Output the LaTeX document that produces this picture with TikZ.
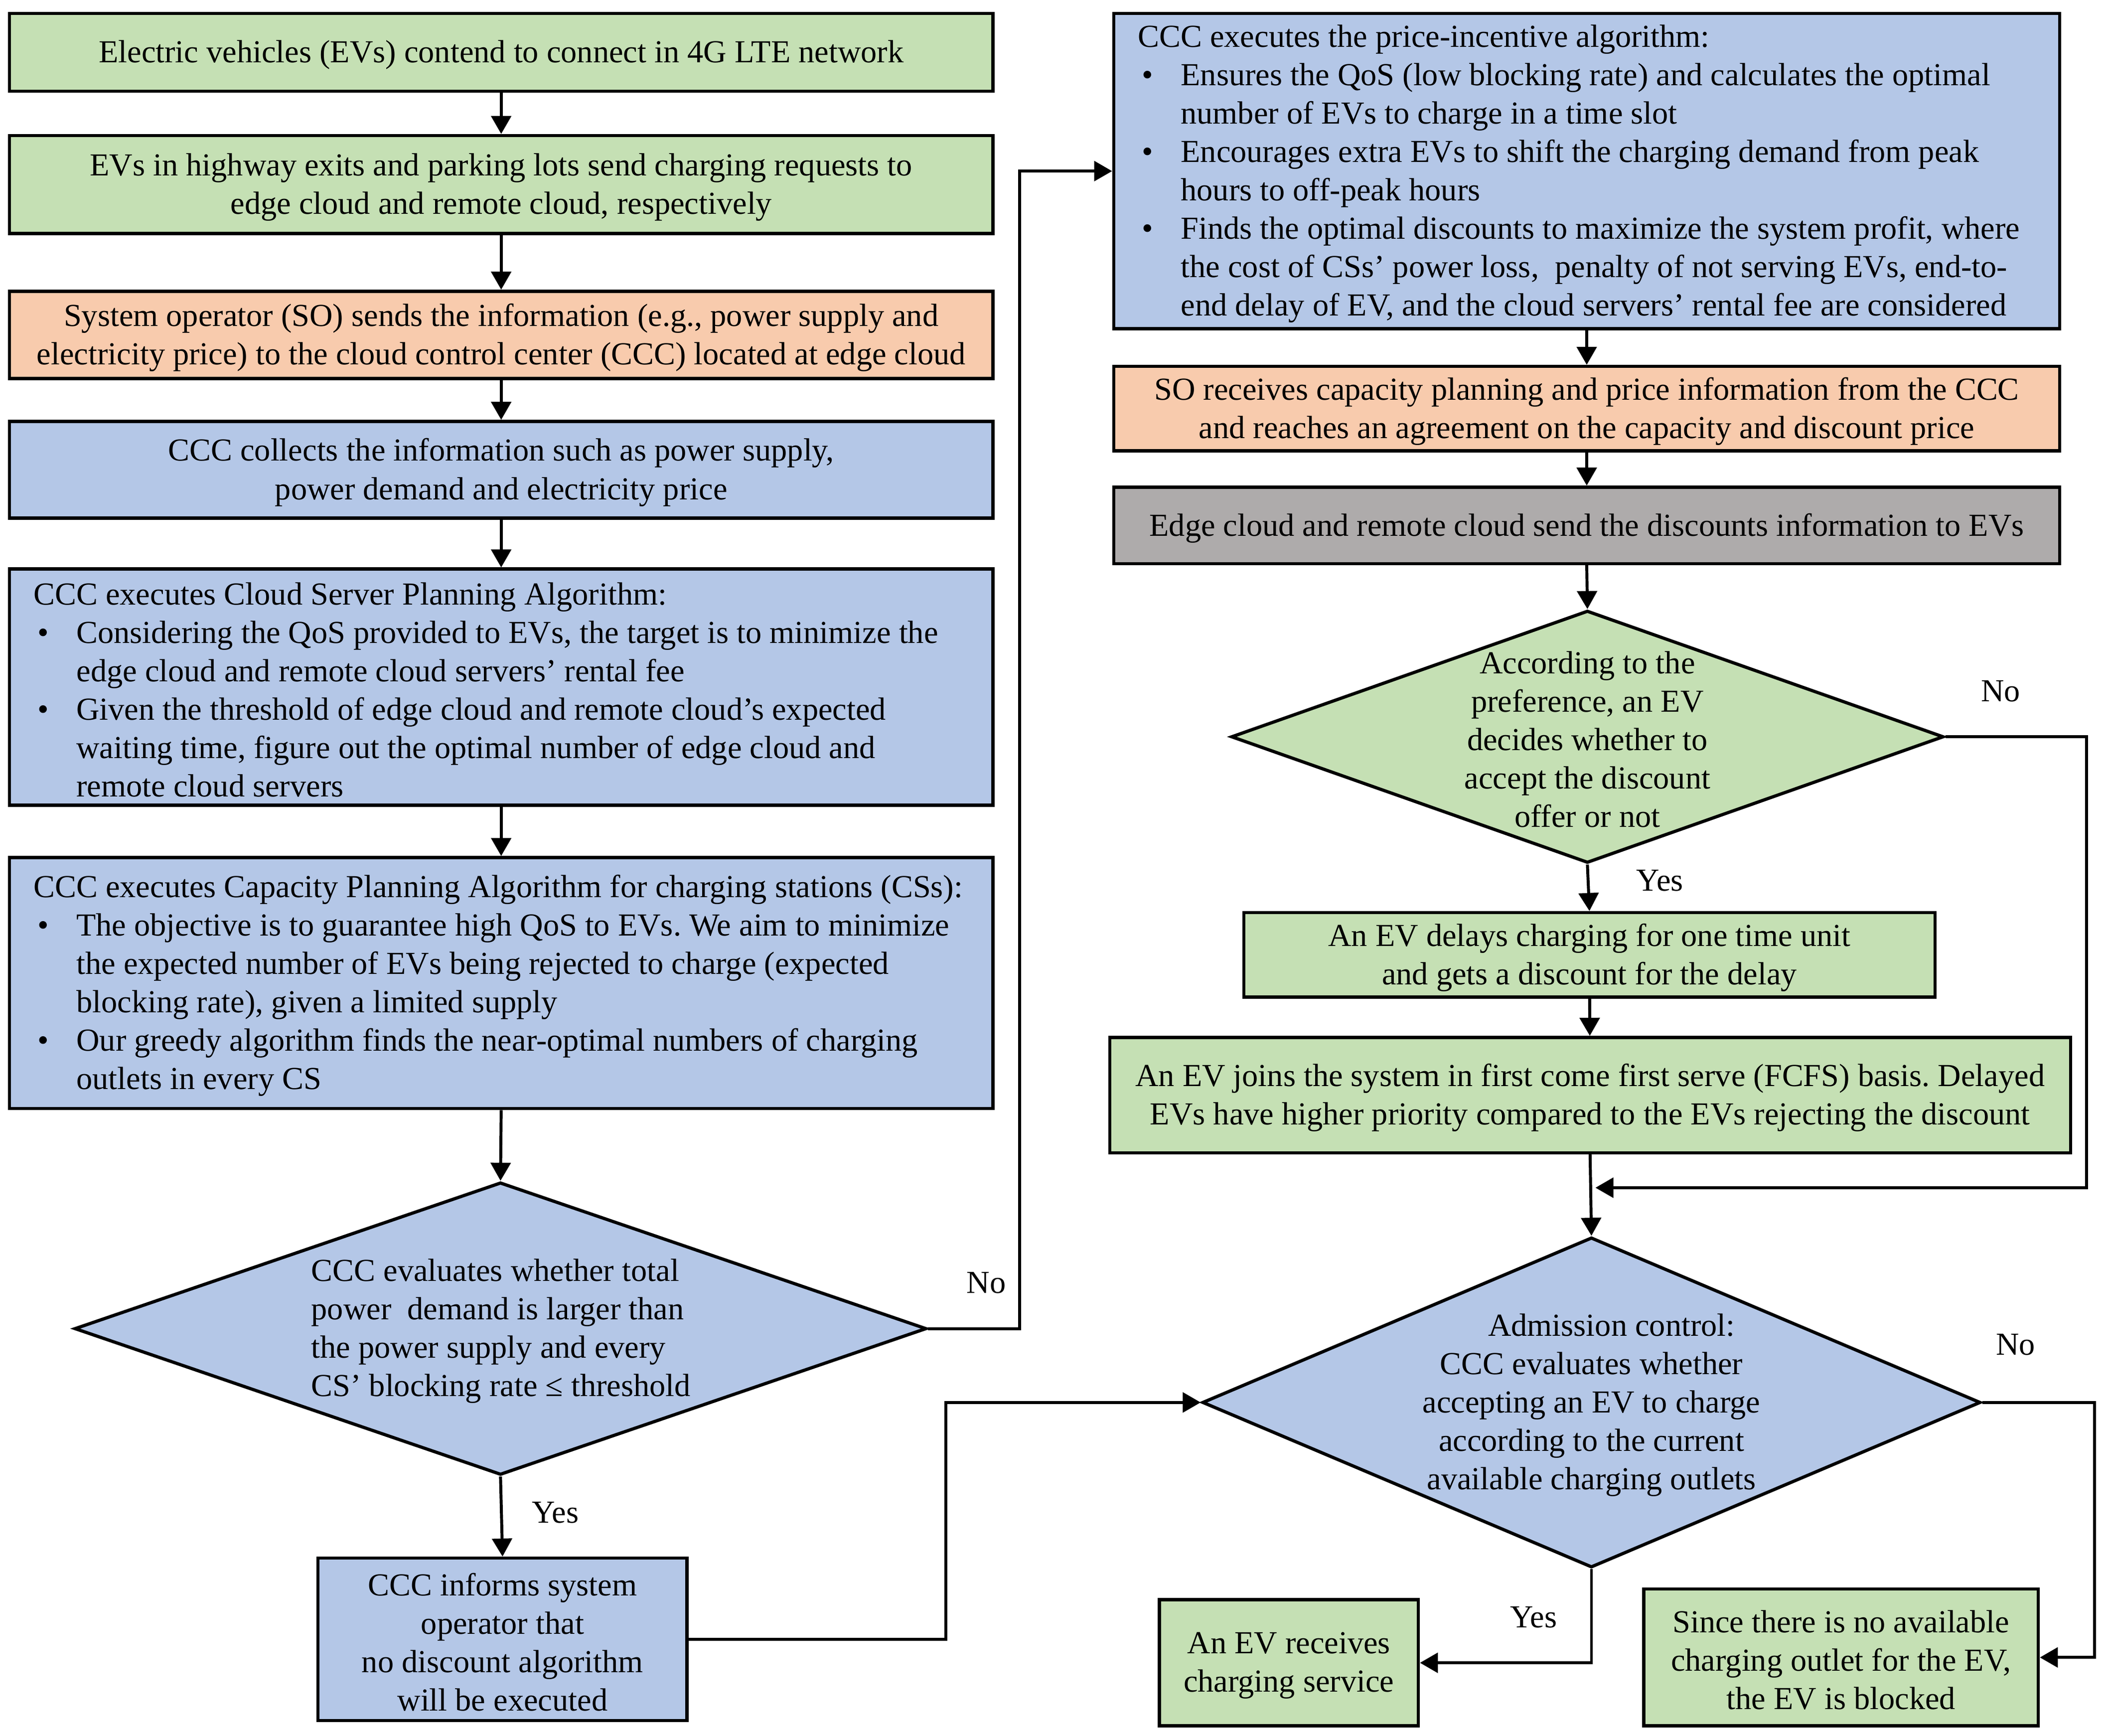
\documentclass[tikz,border=0pt]{standalone}
\usepackage{fontspec}
\setmainfont{Liberation Serif}
\usetikzlibrary{shapes.geometric,arrows.meta,calc}
\definecolor{cgreen}{HTML}{C5E0B4}
\definecolor{corange}{HTML}{F8CBAD}
\definecolor{cblue}{HTML}{B4C7E7}
\definecolor{cgray}{HTML}{AEABAB}
\frenchspacing
\newcommand\bul{\makebox[16pt][l]{\hspace{1.5pt}•}}
\newcommand\cont{\hspace*{16pt}}
% centred text block of fixed width, taking no room in the node
\newcommand\tb[2]{\makebox[0pt]{\smash{\raisebox{-4pt}{\parbox[c]{#1}{#2}}}}}
% left-aligned text block starting #1 from the node centre
\newcommand\tlb[2]{\makebox[0pt][l]{\hspace{#1}\smash{\raisebox{-4pt}{\parbox[c]{362pt}{\raggedright #2}}}}}
\tikzset{
  fnt/.style={font=\fontsize{11.95}{14.3}\selectfont\frenchspacing},
  boxc/.style={draw, line width=1.2pt, fnt, inner sep=0pt, anchor=center},
  dia/.style={draw, diamond, line width=1.2pt, fnt, inner sep=0pt, anchor=center},
  arr/.style={line width=1.1pt, -{Triangle[length=6.7pt,width=7.4pt]}},
  lbl/.style={fnt, inner sep=0pt, anchor=center},
}
\begin{document}
\begin{tikzpicture}[x=0.5pt,y=-0.5pt]
\useasboundingbox (0,0) rectangle (1568,1293.5);
% left column
\node[boxc, fill=cgreen, minimum width=366.5pt, minimum height=29pt] (b1) at (373.5,39)
  {\tb{362pt}{\centering Electric vehicles (EVs) contend to connect in 4G LTE network}};
\node[boxc, fill=cgreen, minimum width=366.5pt, minimum height=36.5pt] (b2) at (373.5,137.5)
  {\tb{362pt}{\centering EVs in highway exits and parking lots send charging requests to\\ edge cloud and remote cloud, respectively}};
\node[boxc, fill=corange, minimum width=366.5pt, minimum height=32.5pt] (b3) at (373.5,249.5)
  {\tb{364pt}{\centering System operator (SO) sends the information (e.g., power supply and\\ electricity price) to the cloud control center (CCC) located at edge cloud}};
\node[boxc, fill=cblue, minimum width=366.5pt, minimum height=36pt] (b4) at (373.5,350)
  {\tb{362pt}{\centering CCC collects the information such as power supply,\\ power demand and electricity price}};
\node[boxc, fill=cblue, minimum width=366.5pt, minimum height=88pt] (b5) at (373.5,512)
  {\tlb{-174.25pt}{CCC executes Cloud Server Planning Algorithm:\\
   \bul Considering the QoS provided to EVs, the target is to minimize the\\
   \cont edge cloud and remote cloud servers’ rental fee\\
   \bul Given the threshold of edge cloud and remote cloud’s expected\\
   \cont waiting time, figure out the optimal number of edge cloud and\\
   \cont remote cloud servers}};
\node[boxc, fill=cblue, minimum width=366.5pt, minimum height=93.5pt] (b6) at (373.5,732.5)
  {\tlb{-174.25pt}{CCC executes Capacity Planning Algorithm for charging stations (CSs):\\
   \bul The objective is to guarantee high QoS to EVs. We aim to minimize\\
   \cont the expected number of EVs being rejected to charge (expected\\
   \cont blocking rate), given a limited supply\\
   \bul Our greedy algorithm finds the near-optimal numbers of charging\\
   \cont outlets in every CS}};
\node[dia, fill=cblue, minimum width=317.5pt, minimum height=109pt] (d1) at (373,990)
  {\tlb{-70.5pt}{CCC evaluates whether total\\ power\ \ demand is larger than\\ the power supply and every\\ CS’ blocking rate ≤ threshold}};
\node[boxc, fill=cblue, minimum width=137.5pt, minimum height=60.5pt] (b7) at (374.5,1221.5)
  {\tb{134pt}{\centering CCC informs system\\ operator that\\ no discount algorithm\\ will be executed}};
% right column
\node[boxc, fill=cblue, minimum width=352.5pt, minimum height=117.5pt] (b8) at (1182.5,127.5)
  {\tlb{-167.25pt}{CCC executes the price-incentive algorithm:\\
   \bul Ensures the QoS (low blocking rate) and calculates the optimal\\
   \cont number of EVs to charge in a time slot\\
   \bul Encourages extra EVs to shift the charging demand from peak\\
   \cont hours to off-peak hours\\
   \bul Finds the optimal discounts to maximize the system profit, where\\
   \cont the cost of CSs’ power loss,\ \ penalty of not serving EVs, end-to-\\
   \cont end delay of EV, and the cloud servers’ rental fee are considered}};
\node[boxc, fill=corange, minimum width=352.5pt, minimum height=31.5pt] (b9) at (1182.5,304.5)
  {\tb{349pt}{\centering SO receives capacity planning and price information from the CCC\\ and reaches an agreement on the capacity and discount price}};
\node[boxc, fill=cgray, minimum width=352.5pt, minimum height=28.5pt] (b10) at (1182.5,391.5)
  {\tb{349pt}{\centering Edge cloud and remote cloud send the discounts information to EVs}};
\node[dia, fill=cgreen, minimum width=265.5pt, minimum height=94pt] (d2) at (1183,549)
  {\tb{140pt}{\centering According to the\\ preference, an EV\\ decides whether to\\ accept the discount\\ offer or not}};
\node[boxc, fill=cgreen, minimum width=257.5pt, minimum height=31.5pt] (b11) at (1184.5,711.5)
  {\tb{254pt}{\centering An EV delays charging for one time unit\\ and gets a discount for the delay}};
\node[boxc, fill=cgreen, minimum width=358pt, minimum height=43pt] (b12) at (1185,816)
  {\tb{355pt}{\centering An EV joins the system in first come first serve (FCFS) basis. Delayed\\ EVs have higher priority compared to the EVs rejecting the discount}};
\node[dia, fill=cblue, minimum width=290pt, minimum height=123pt] (d3) at (1186,1045)
  {\tb{170pt}{\centering \hspace*{15pt}Admission control:\\ CCC evaluates whether\\ accepting an EV to charge\\ according to the current\\ available charging outlets}};
\node[boxc, fill=cgreen, minimum width=96.5pt, minimum height=47pt] (b13) at (960.5,1239)
  {\tb{94pt}{\centering An EV receives\\ charging service}};
\node[boxc, fill=cgreen, minimum width=147pt, minimum height=51pt] (b14) at (1372,1235)
  {\tb{145pt}{\centering Since there is no available\\ charging outlet for the EV,\\ the EV is blocked}};
% helper coordinates
\coordinate (c1) at (760,990);
\coordinate (c2) at (705,1221.5);
\coordinate (c3) at (1555,549);
\coordinate (j1) at (1189,885);
\coordinate (c4) at (1561,1045);
% connectors
\draw[arr] (b1) -- (b2);
\draw[arr] (b2) -- (b3);
\draw[arr] (b3) -- (b4);
\draw[arr] (b4) -- (b5);
\draw[arr] (b5) -- (b6);
\draw[arr] (b6.south) -- (d1.north);
\draw[arr] (d1.south) -- (b7.north);
\draw[arr] (d1.east) -- (c1) |- (b8.west);
\draw[arr] (b7.east) -- (c2) |- (d3.west);
\draw[arr] (b8) -- (b9);
\draw[arr] (b9) -- (b10);
\draw[arr] (b10.south) -- (d2.north);
\draw[arr] (d2.south) -- (b11.north);
\draw[arr] (b11) -- (b12);
\draw[arr] (b12.south) -- (d3.north);
\draw[arr] (d2.east) -- (c3) |- (j1);
\draw[arr] (d3.east) -- (c4) |- (b14.east);
\draw[arr] (d3.south) |- (b13.east);
% labels
\node[lbl] (n1) at (735,956) {No};
\node[lbl] (y1) at (414,1127) {Yes};
\node[lbl] (n2) at (1491,515) {No};
\node[lbl] (y2) at (1237,656) {Yes};
\node[lbl] (n3) at (1502,1002) {No};
\node[lbl] (y3) at (1143,1205) {Yes};
\end{tikzpicture}
\end{document}
